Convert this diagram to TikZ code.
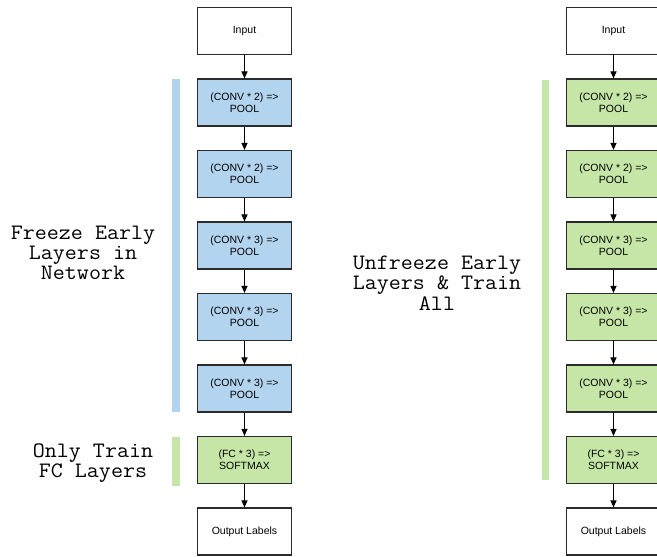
\documentclass[tikz,border=0pt]{standalone}
\usepackage{fontspec}
\setmainfont{Liberation Sans}
\newfontfamily\tagfont{Latin Modern Mono}[FakeStretch=1.06]
\usetikzlibrary{positioning,arrows.meta}
\definecolor{frozen}{HTML}{B3D4EE}
\definecolor{tuned}{HTML}{C6E6A8}
\definecolor{edge}{HTML}{2B2B2B}

\begin{document}
\begin{tikzpicture}[x=1pt,y=-1pt,
  layer/.style={draw=edge,line width=1.1pt,minimum width=94pt,minimum height=47pt,
    inner sep=2pt,align=center,font=\fontsize{10.5}{12}\selectfont},
  flow/.style={draw=black,line width=1pt,-{Triangle[length=7pt,width=6pt]}},
  tag/.style={font=\tagfont\fontsize{22}{20.3}\selectfont,align=center},
  node distance=23.4pt]
\clip (0,0) rectangle (657,557);
\useasboundingbox (0,0) rectangle (657,557);

% left: only the head is trained
\node[layer] (inL) at (244.5,31) {Input};
\node[layer,fill=frozen,below=of inL] (c1L) {(CONV * 2) =>\\POOL};
\node[layer,fill=frozen,below=of c1L] (c2L) {(CONV * 2) =>\\POOL};
\node[layer,fill=frozen,below=of c2L] (c3L) {(CONV * 3) =>\\POOL};
\node[layer,fill=frozen,below=of c3L] (c4L) {(CONV * 3) =>\\POOL};
\node[layer,fill=frozen,below=of c4L] (c5L) {(CONV * 3) =>\\POOL};
\node[layer,fill=tuned,below=of c5L] (fcL) {(FC * 3) =>\\SOFTMAX};
\node[layer,below=of fcL] (outL) {Output Labels};
\foreach \a/\b in {inL/c1L,c1L/c2L,c2L/c3L,c3L/c4L,c4L/c5L,c5L/fcL,fcL/outL}
  \draw[flow] (\a) -- (\b);

\fill[frozen] (172,79) rectangle (180,412);
\fill[tuned] (172,437) rectangle (180,486);
\node[tag] (freezeTag) at (83,253) {Freeze Early\\Layers in\\Network};
\node[tag] (headTag) at (93,463) {Only Train\\FC Layers};

% right: everything is trained
\node[layer] (inR) at (613.5,31) {Input};
\node[layer,fill=tuned,below=of inR] (c1R) {(CONV * 2) =>\\POOL};
\node[layer,fill=tuned,below=of c1R] (c2R) {(CONV * 2) =>\\POOL};
\node[layer,fill=tuned,below=of c2R] (c3R) {(CONV * 3) =>\\POOL};
\node[layer,fill=tuned,below=of c3R] (c4R) {(CONV * 3) =>\\POOL};
\node[layer,fill=tuned,below=of c4R] (c5R) {(CONV * 3) =>\\POOL};
\node[layer,fill=tuned,below=of c5R] (fcR) {(FC * 3) =>\\SOFTMAX};
\node[layer,below=of fcR] (outR) {Output Labels};
\foreach \a/\b in {inR/c1R,c1R/c2R,c2R/c3R,c3R/c4R,c4R/c5R,c5R/fcR,fcR/outR}
  \draw[flow] (\a) -- (\b);

\fill[tuned] (542,80) rectangle (549,480);
\node[tag] (unfreezeTag) at (437,283) {Unfreeze Early\\Layers \& Train\\All};
\end{tikzpicture}
\end{document}
